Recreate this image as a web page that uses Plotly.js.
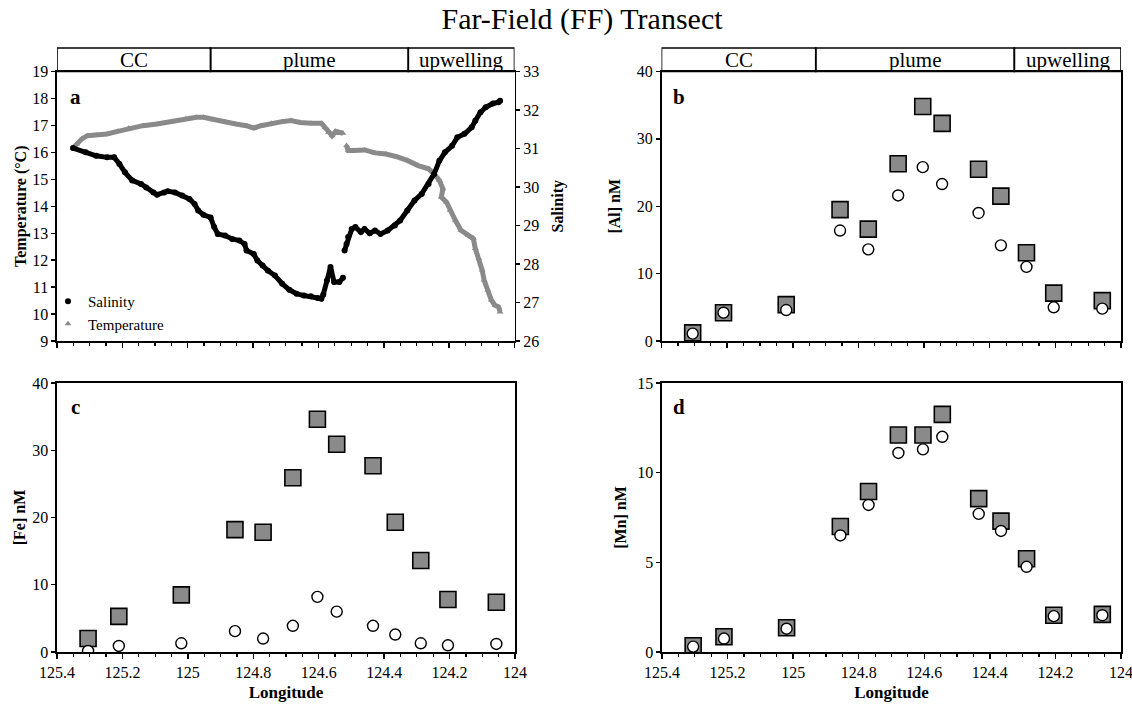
<!DOCTYPE html>
<html>
<head>
<meta charset="utf-8">
<script src="https://cdn.plot.ly/plotly-3.0.1.min.js"></script>
<style>html,body{margin:0;padding:0;background:#fff;}#chart{width:1132px;height:704px;}</style>
</head>
<body>
<div id="chart"></div>
<script>
// ---------- Data ----------
// Panel a: underway salinity (black) and temperature (grey) vs longitude
var salLon = [125.351,125.312,125.280,125.247,125.225,125.209,125.192,125.170,125.143,125.127,125.105,125.094,125.072,125.061,125.039,125.017,124.995,124.979,124.968,124.952,124.930,124.919,124.908,124.886,124.864,124.842,124.826,124.820,124.798,124.787,124.771,124.755,124.733,124.711,124.689,124.667,124.645,124.623,124.602,124.591,124.585,124.574,124.563,124.563,124.552,124.536,124.525,124.525,124.520,124.514,124.509,124.498,124.487,124.470,124.459,124.443,124.427,124.410,124.388,124.366,124.350,124.328,124.306,124.284,124.263,124.246,124.230,124.213,124.191,124.175,124.153,124.131,124.120,124.104,124.088,124.066,124.049,124.044];
var salinity = [31.01,30.90,30.81,30.77,30.77,30.60,30.38,30.17,30.08,29.99,29.86,29.80,29.86,29.89,29.86,29.78,29.69,29.56,29.39,29.28,29.21,28.96,28.78,28.74,28.65,28.61,28.52,28.35,28.26,28.09,27.96,27.83,27.70,27.49,27.33,27.23,27.18,27.16,27.12,27.10,27.21,27.57,27.83,27.92,27.53,27.53,27.64,null,28.35,28.52,28.70,28.91,28.96,28.83,28.91,28.80,28.87,28.78,28.87,29.00,29.13,29.39,29.65,29.82,30.08,30.34,30.68,30.90,31.07,31.29,31.38,31.55,31.72,31.94,32.07,32.17,32.20,32.24];
var tempLon = [125.351,125.340,125.324,125.307,125.280,125.247,125.214,125.181,125.137,125.094,125.050,125.006,124.973,124.952,124.919,124.886,124.853,124.820,124.798,124.776,124.744,124.711,124.684,124.656,124.623,124.591,124.580,124.569,124.558,124.547,124.525,124.523,124.514,124.509,124.492,124.459,124.427,124.394,124.361,124.328,124.295,124.263,124.246,124.230,124.219,124.224,124.208,124.197,124.181,124.164,124.142,124.126,124.120,124.109,124.099,124.093,124.082,124.071,124.060,124.049,124.044];
var temperature = [16.16,16.31,16.50,16.62,16.64,16.68,16.78,16.89,16.99,17.05,17.14,17.24,17.30,17.30,17.21,17.14,17.05,16.99,16.90,16.99,17.08,17.14,17.18,17.11,17.08,17.08,16.93,16.74,16.62,16.78,16.71,null,16.25,16.07,16.07,16.09,15.98,15.94,15.84,15.70,15.51,15.39,15.20,14.96,14.65,14.34,14.15,13.85,13.48,13.11,12.92,12.80,12.43,12.06,11.63,11.26,10.89,10.52,10.33,10.27,10.08];

// Panels b-d: discrete stations
var stationLon = [125.305,125.211,125.020,124.856,124.770,124.679,124.604,124.545,124.434,124.366,124.288,124.205,124.057];
var alSquares  = [1.2,4.2,5.4,19.5,16.6,26.3,34.8,32.3,25.5,21.5,13.1,7.1,6.0];
var alCircles  = [1.1,4.2,4.6,16.4,13.6,21.6,25.8,23.3,19.0,14.2,11.0,5.0,4.8];
var feSquares  = [2.0,5.3,8.5,18.2,17.8,25.9,34.6,30.9,27.7,19.3,13.6,7.8,7.4];
var feCircles  = [0.15,0.9,1.3,3.1,2.0,3.9,8.2,6.0,3.9,2.6,1.3,1.0,1.2];
var mnSquares  = [0.35,0.85,1.35,7.0,8.95,12.1,12.1,13.25,8.55,7.3,5.2,2.05,2.1];
var mnCircles  = [0.3,0.75,1.3,6.5,8.2,11.1,11.3,12.0,7.7,6.75,4.75,2.0,2.05];

// Water-mass zones shown above the top panels
var zoneNames  = ['CC','plume','upwelling'];
var zoneBounds = [125.4,124.93,124.325,124.0];

// ---------- Styling ----------
var FONT = 'Liberation Serif';
var GREY = '#8a8a8a';
var W = 1132, H = 704;
function px(x){ return x / W; }
function py(y){ return (H - y) / H; }

var xTop = [py(341), py(71.5)];
var xBot = [py(652), py(383)];

function xAxis(domain, anchor, showLabels, title){
  var ax = {
    domain: domain, anchor: anchor, range: [125.4, 124], autorange: false,
    tickmode: 'linear', tick0: 124, dtick: 0.2,
    ticks: 'outside', ticklen: 5, tickwidth: 1.5, tickcolor: '#000',
    minor: {dtick: 0.05, ticks: 'outside', ticklen: 3, tickwidth: 1.2, tickcolor: '#000'},
    showline: true, linecolor: '#000', linewidth: 1.6, mirror: true,
    showgrid: false, zeroline: false, showticklabels: showLabels, ticklabeloverflow: 'allow',
    tickfont: {family: FONT, size: 16, color: '#000'}
  };
  if (title) ax.title = {text: '<b>' + title + '</b>', font: {family: FONT, size: 17, color: '#000'}, standoff: 6};
  return ax;
}
function yAxis(domain, anchor, range, dtick, title, standoff, side, overlaying){
  var ax = {
    domain: domain, anchor: anchor, range: range, autorange: false,
    tickmode: 'linear', tick0: range[0], dtick: dtick,
    ticks: 'outside', ticklen: 4, tickwidth: 1.3, tickcolor: '#000',
    showline: true, linecolor: '#000', linewidth: 1.6, mirror: overlaying ? false : true,
    showgrid: false, zeroline: false, ticklabeloverflow: 'allow',
    tickfont: {family: FONT, size: 16, color: '#000'},
    title: {text: '<b>' + title + '</b>', font: {family: FONT, size: 16, color: '#000'}, standoff: standoff}
  };
  if (side) ax.side = side;
  if (overlaying) ax.overlaying = overlaying;
  return ax;
}

// ---------- Traces ----------
var traces = [];
// Panel a
traces.push({x: tempLon, y: temperature, xaxis: 'x', yaxis: 'y', type: 'scatter', mode: 'lines',
  line: {color: GREY, width: 5}, connectgaps: false, showlegend: false, hoverinfo: 'skip'});
traces.push({x: salLon, y: salinity, xaxis: 'x', yaxis: 'y2', type: 'scatter', mode: 'lines',
  line: {color: '#000', width: 5}, connectgaps: false, showlegend: false, hoverinfo: 'skip'});
traces.push({x: salLon, y: salinity, xaxis: 'x', yaxis: 'y2', type: 'scatter', mode: 'markers', name: 'Salinity',
  marker: {symbol: 'circle', color: '#000', size: 6}, legendrank: 1});
traces.push({x: tempLon, y: temperature, xaxis: 'x', yaxis: 'y', type: 'scatter', mode: 'markers', name: 'Temperature',
  marker: {symbol: 'triangle-up', color: GREY, size: 6}, legendrank: 2});

function pair(sq, ci, xa, ya){
  traces.push({x: stationLon, y: sq, xaxis: xa, yaxis: ya, type: 'scatter', mode: 'markers', showlegend: false,
    marker: {symbol: 'square', size: 16, color: GREY, line: {color: '#000', width: 1.6}}});
  traces.push({x: stationLon, y: ci, xaxis: xa, yaxis: ya, type: 'scatter', mode: 'markers', showlegend: false,
    marker: {symbol: 'circle', size: 11, color: '#fff', line: {color: '#000', width: 1.4}}});
}
pair(alSquares, alCircles, 'x2', 'y3');
pair(feSquares, feCircles, 'x3', 'y4');
pair(mnSquares, mnCircles, 'x4', 'y5');

// ---------- Header boxes and labels ----------
var shapes = [], annotations = [];
var hy0 = py(71.5), hy1 = py(48);
['x', 'x2'].forEach(function(xr){
  for (var i = 0; i < zoneNames.length; i++){
    shapes.push({type: 'rect', xref: xr, yref: 'paper', x0: zoneBounds[i], x1: zoneBounds[i+1], y0: hy0, y1: hy1,
      line: {color: '#000', width: 1.6}, fillcolor: 'rgba(0,0,0,0)'});
    annotations.push({xref: xr, yref: 'paper', x: (zoneBounds[i] + zoneBounds[i+1]) / 2, y: (hy0 + hy1) / 2,
      text: zoneNames[i], showarrow: false, font: {family: FONT, size: 21, color: '#000'}, yanchor: 'middle'});
  }
});
[['a', px(75), py(97)], ['b', px(679), py(97)], ['c', px(75), py(407)], ['d', px(679), py(407)]].forEach(function(p){
  annotations.push({xref: 'paper', yref: 'paper', x: p[1], y: p[2], xanchor: 'center', yanchor: 'middle',
    text: '<b>' + p[0] + '</b>', showarrow: false, font: {family: FONT, size: 21, color: '#000'}});
});

var layout = {
  width: W, height: H, margin: {l: 0, r: 0, t: 0, b: 0},
  paper_bgcolor: '#fff', plot_bgcolor: 'rgba(0,0,0,0)',
  font: {family: FONT, color: '#000'},
  title: {text: 'Far-Field (FF) Transect', font: {family: FONT, size: 30, color: '#000'},
    x: px(582), xanchor: 'center', y: py(18), yanchor: 'middle', yref: 'container', xref: 'paper'},
  xaxis:  xAxis([px(57), px(514.5)], 'y', false),
  yaxis:  yAxis(xTop, 'x', [9, 19], 1, 'Temperature (°C)', 1),
  yaxis2: yAxis(xTop, 'x', [26, 33], 1, 'Salinity', 13, 'right', 'y'),
  xaxis2: xAxis([px(661.5), px(1121)], 'y3', false),
  yaxis3: yAxis(xTop, 'x2', [0, 40], 10, '[Al] nM', 12),
  xaxis3: xAxis([px(57), px(515)], 'y4', true, 'Longitude'),
  yaxis4: yAxis(xBot, 'x3', [0, 40], 10, '[Fe] nM', 2),
  xaxis4: xAxis([px(662), px(1121)], 'y5', true, 'Longitude'),
  yaxis5: yAxis(xBot, 'x4', [0, 15], 5, '[Mn] nM', 6),
  showlegend: true,
  legend: {x: px(48), y: py(285), xanchor: 'left', yanchor: 'top', bgcolor: 'rgba(0,0,0,0)',
    font: {family: FONT, size: 15, color: '#000'}, tracegroupgap: 0, itemwidth: 30, traceorder: 'normal'},
  shapes: shapes, annotations: annotations
};

Plotly.newPlot('chart', traces, layout, {staticPlot: true, displayModeBar: false});
</script>
</body>
</html>
